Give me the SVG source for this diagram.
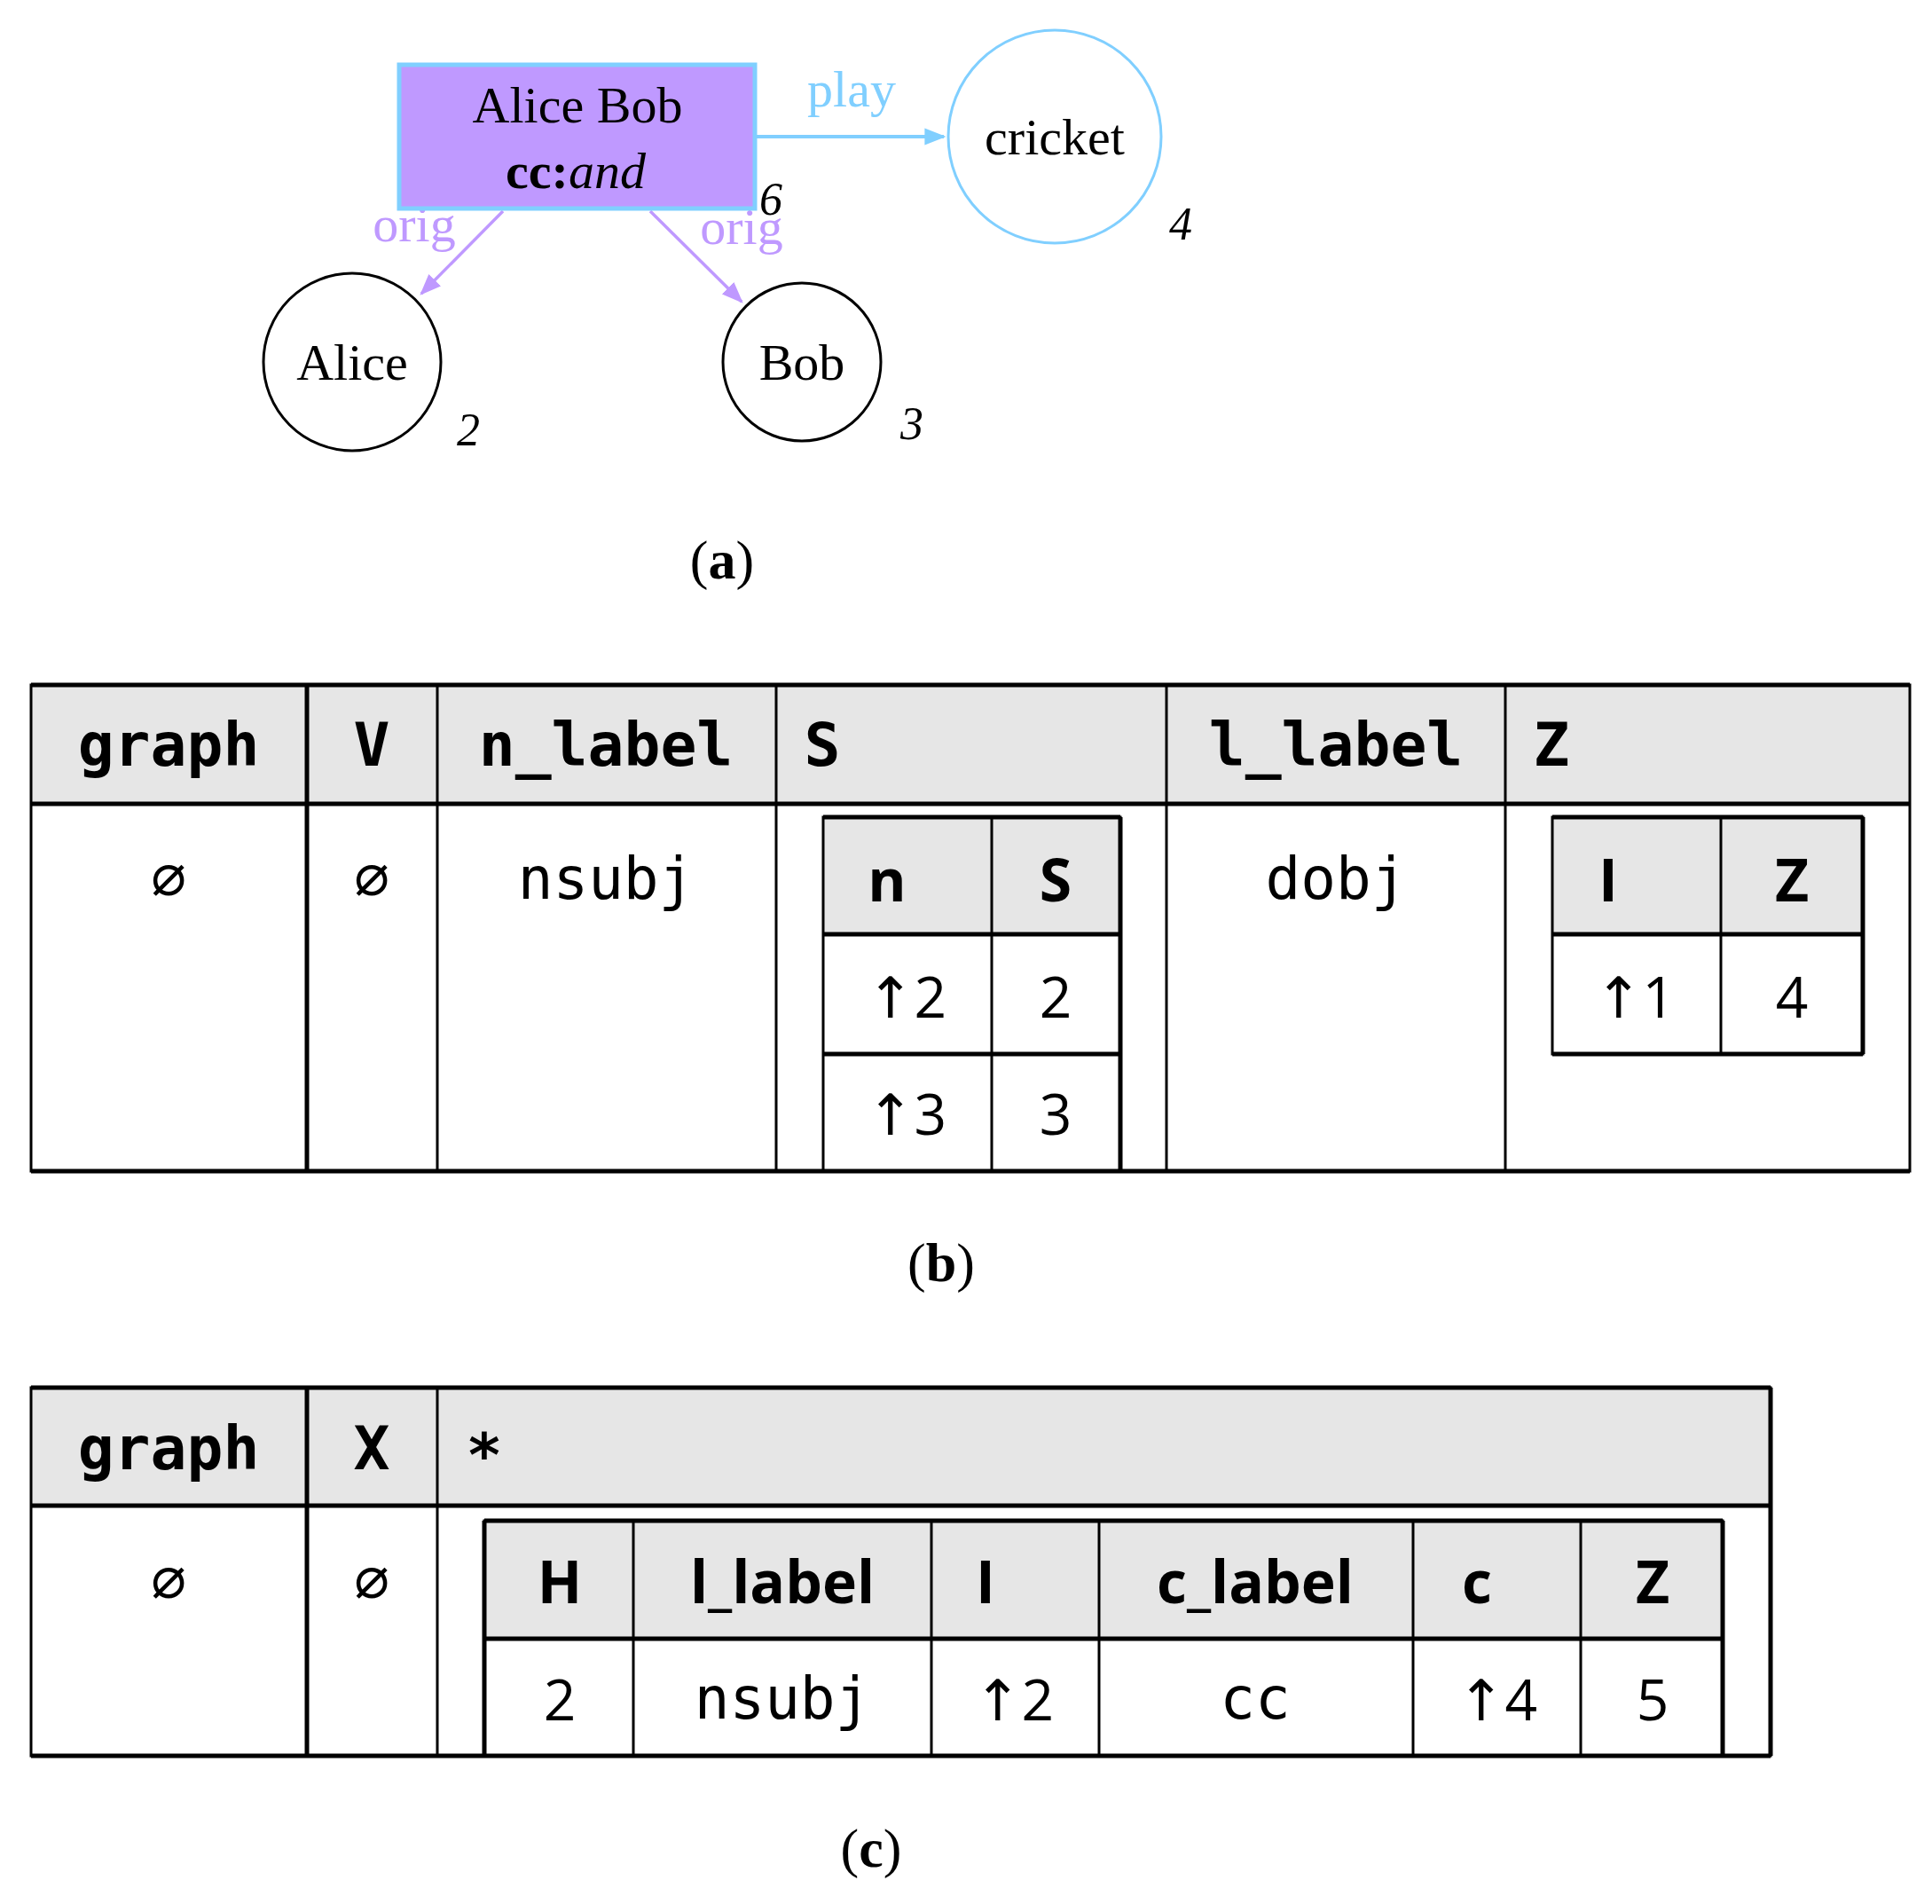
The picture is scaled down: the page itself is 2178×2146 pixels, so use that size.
<svg xmlns="http://www.w3.org/2000/svg" width="2178" height="2146" viewBox="0 0 2178 2146">
<style>
.serif{font-family:"Liberation Serif","DejaVu Serif",serif;font-size:58px;text-anchor:middle}
.idx{font-family:"Liberation Serif",serif;font-style:italic;font-size:52px;text-anchor:middle}
.cap{font-family:"Liberation Serif",serif;font-size:62px;text-anchor:middle}
.mh{font-family:"DejaVu Sans Mono",monospace;font-weight:bold;font-size:68px;text-anchor:middle;dominant-baseline:central}
.mb{font-family:"DejaVu Sans Mono",monospace;font-size:66px;text-anchor:middle;dominant-baseline:central}
.sh{font-family:"Open Sans","DejaVu Sans",sans-serif;font-weight:bold;font-size:66px;text-anchor:middle;dominant-baseline:central}
.sb{font-family:"Open Sans","DejaVu Sans",sans-serif;font-size:64px;text-anchor:middle;dominant-baseline:central}
.hd{fill:#e6e6e6}
.ln{stroke:#000;stroke-width:3;fill:none}
.tk{stroke:#000;stroke-width:5;fill:none}
</style>
<defs>
<marker id="ap" viewBox="0 0 10 10" refX="9" refY="5" markerWidth="24" markerHeight="24" orient="auto" markerUnits="userSpaceOnUse"><path d="M0,1 L10,5 L0,9 z" fill="#bf99ff"/></marker>
<marker id="ab2" viewBox="0 0 10 10" refX="9" refY="5" markerWidth="24" markerHeight="24" orient="auto" markerUnits="userSpaceOnUse"><path d="M0,1 L10,5 L0,9 z" fill="#80cfff"/></marker>
</defs>
<rect width="2178" height="2146" fill="#fff"/>
<g id="connectors">
<line x1="852" y1="154" x2="1064" y2="154" stroke="#80cfff" stroke-width="4" marker-end="url(#ab2)"/>
<text x="960" y="120" class="serif" fill="#80cfff">play</text>
<line x1="567" y1="238" x2="475" y2="331" stroke="#bf99ff" stroke-width="3.5" marker-end="url(#ap)"/>
<text x="467" y="272" class="serif" fill="#bf99ff">orig</text>
<line x1="733" y1="238" x2="836" y2="340" stroke="#bf99ff" stroke-width="3.5" marker-end="url(#ap)"/>
<text x="836" y="275" class="serif" fill="#bf99ff">orig</text>
</g>
<g id="node6">
<rect x="450" y="73" width="401" height="162" fill="#bf99ff" stroke="#80cfff" stroke-width="5"/>
<text x="651" y="138" class="serif">Alice Bob</text>
<text x="649" y="212" class="serif"><tspan font-weight="bold">cc:</tspan><tspan font-style="italic">and</tspan></text>
<text x="869" y="242" class="idx">6</text>
</g>
<g id="node4">
<circle cx="1189" cy="154" r="120" fill="none" stroke="#80cfff" stroke-width="3"/>
<text x="1189" y="174" class="serif">cricket</text>
<text x="1331" y="270" class="idx">4</text>
</g>
<g id="node2">
<circle cx="397" cy="408" r="100" fill="none" stroke="#000" stroke-width="3"/>
<text x="397" y="428" class="serif">Alice</text>
<text x="528" y="502" class="idx">2</text>
</g>
<g id="node3">
<circle cx="904" cy="408" r="89" fill="none" stroke="#000" stroke-width="3"/>
<text x="904" y="428" class="serif">Bob</text>
<text x="1028" y="495" class="idx">3</text>
</g>
<text x="814" y="652" class="cap">(<tspan font-weight="bold">a</tspan>)</text>

<g id="tableB">
<rect x="35" y="772" width="2118" height="134" class="hd"/>
<rect x="928" y="921" width="335" height="132" class="hd"/>
<rect x="1750" y="921" width="350" height="132" class="hd"/>
<rect x="35" y="772" width="2118" height="548" class="ln"/>
<line x1="35" y1="772" x2="2153" y2="772" class="tk"/>
<line x1="35" y1="906" x2="2153" y2="906" class="tk"/>
<line x1="35" y1="1320" x2="2153" y2="1320" class="tk"/>
<line x1="346" y1="772" x2="346" y2="1320" class="tk"/>
<line x1="493" y1="772" x2="493" y2="1320" class="ln"/>
<line x1="875" y1="772" x2="875" y2="1320" class="ln"/>
<line x1="1315" y1="772" x2="1315" y2="1320" class="ln"/>
<line x1="1697" y1="772" x2="1697" y2="1320" class="ln"/>
<text x="190" y="839" class="mh">graph</text>
<text x="419" y="839" class="mh">V</text>
<text x="683" y="839" class="mh">n_label</text>
<text x="927" y="839" class="mh" text-anchor="start">S</text>
<text x="1506" y="839" class="mh">l_label</text>
<text x="1749" y="839" class="mh" text-anchor="start">Z</text>
<text x="190" y="990" class="mb" font-size="76">∅</text>
<text x="419" y="990" class="mb" font-size="76">∅</text>
<text x="683" y="990" class="mb">nsubj</text>
<text x="1506" y="990" class="mb">dobj</text>
<rect x="928" y="921" width="335" height="399" class="ln"/>
<line x1="928" y1="921" x2="1263" y2="921" class="tk"/>
<line x1="928" y1="1053" x2="1263" y2="1053" class="tk"/>
<line x1="928" y1="1188" x2="1263" y2="1188" class="tk"/>
<line x1="1118" y1="921" x2="1118" y2="1320" class="ln"/>
<line x1="1263" y1="921" x2="1263" y2="1320" class="tk"/>
<text x="1000" y="990" class="sh">n</text>
<text x="1190" y="990" class="sh">S</text>
<text x="1022" y="1122" class="sb">↑2</text>
<text x="1190" y="1122" class="sb">2</text>
<text x="1022" y="1254" class="sb">↑3</text>
<text x="1190" y="1254" class="sb">3</text>
<rect x="1750" y="921" width="350" height="267" class="ln"/>
<line x1="1750" y1="921" x2="2100" y2="921" class="tk"/>
<line x1="1750" y1="1053" x2="2100" y2="1053" class="tk"/>
<line x1="1750" y1="1188" x2="2100" y2="1188" class="tk"/>
<line x1="1940" y1="921" x2="1940" y2="1188" class="ln"/>
<line x1="2100" y1="921" x2="2100" y2="1188" class="tk"/>
<text x="1813" y="990" class="sh">I</text>
<text x="2020" y="990" class="sh">Z</text>
<text x="1843" y="1122" class="sb">↑1</text>
<text x="2020" y="1122" class="sb">4</text>
</g>
<text x="1061" y="1444" class="cap">(<tspan font-weight="bold">b</tspan>)</text>

<g id="tableC">
<rect x="35" y="1564" width="1961" height="133" class="hd"/>
<rect x="546" y="1714" width="1396" height="133" class="hd"/>
<rect x="35" y="1564" width="1961" height="415" class="ln"/>
<line x1="35" y1="1564" x2="1996" y2="1564" class="tk"/>
<line x1="35" y1="1697" x2="1996" y2="1697" class="tk"/>
<line x1="35" y1="1979" x2="1996" y2="1979" class="tk"/>
<line x1="1996" y1="1564" x2="1996" y2="1979" class="tk"/>
<line x1="346" y1="1564" x2="346" y2="1979" class="tk"/>
<line x1="493" y1="1564" x2="493" y2="1979" class="ln"/>
<text x="190" y="1632" class="mh">graph</text>
<text x="419" y="1632" class="mh">X</text>
<text x="546" y="1640" class="mh" text-anchor="start">*</text>
<text x="190" y="1782" class="mb" font-size="76">∅</text>
<text x="419" y="1782" class="mb" font-size="76">∅</text>
<rect x="546" y="1714" width="1396" height="265" class="ln"/>
<line x1="546" y1="1714" x2="1942" y2="1714" class="tk"/>
<line x1="546" y1="1847" x2="1942" y2="1847" class="tk"/>
<line x1="546" y1="1714" x2="546" y2="1979" class="tk"/>
<line x1="714" y1="1714" x2="714" y2="1979" class="ln"/>
<line x1="1050" y1="1714" x2="1050" y2="1979" class="ln"/>
<line x1="1239" y1="1714" x2="1239" y2="1979" class="ln"/>
<line x1="1593" y1="1714" x2="1593" y2="1979" class="ln"/>
<line x1="1782" y1="1714" x2="1782" y2="1979" class="ln"/>
<line x1="1942" y1="1714" x2="1942" y2="1979" class="tk"/>
<text x="631" y="1781" class="sh">H</text>
<text x="882" y="1781" class="sh">l_label</text>
<text x="1111" y="1781" class="sh">I</text>
<text x="1415" y="1781" class="sh">c_label</text>
<text x="1665" y="1781" class="sh">c</text>
<text x="1863" y="1781" class="sh">Z</text>
<text x="631" y="1914" class="sb">2</text>
<text x="882" y="1914" class="mb">nsubj</text>
<text x="1143" y="1914" class="sb">↑2</text>
<text x="1415" y="1914" class="mb">cc</text>
<text x="1688" y="1914" class="sb">↑4</text>
<text x="1863" y="1914" class="sb">5</text>
</g>
<text x="982" y="2104" class="cap">(<tspan font-weight="bold">c</tspan>)</text>
</svg>
